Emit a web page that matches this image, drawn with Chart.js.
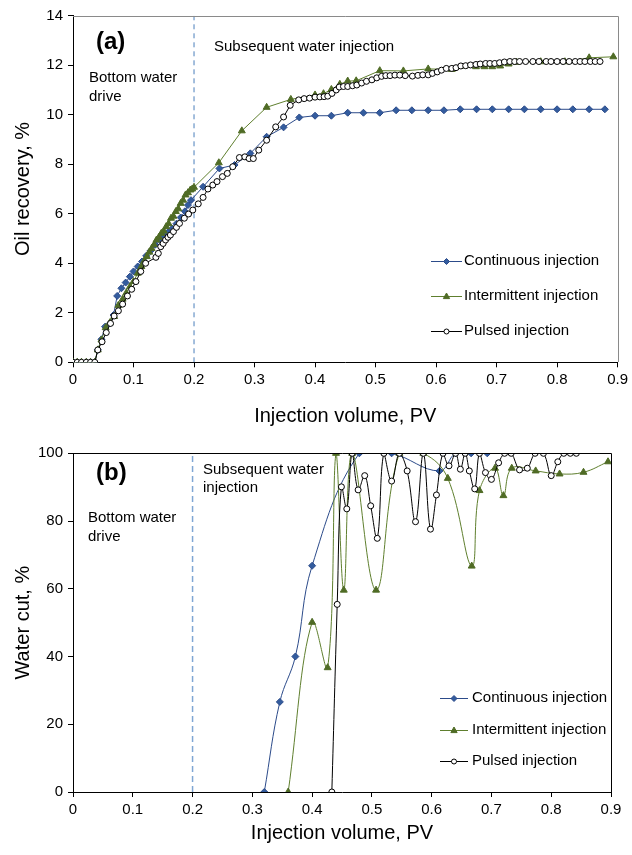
<!DOCTYPE html>
<html>
<head>
<meta charset="utf-8">
<script src="https://cdn.jsdelivr.net/npm/chart.js@4.4.1/dist/chart.umd.min.js"></script>
<style>
  html, body { margin: 0; padding: 0; background: #fff; }
  .pane { position: absolute; left: 0; }
  #paneA { top: 0; }
  #paneB { top: 430px; }
</style>
</head>
<body>
<div class="pane" id="paneA"><canvas id="chartA" width="632" height="430"></canvas></div>
<div class="pane" id="paneB"><canvas id="chartB" width="632" height="425"></canvas></div>
<script>
/* (a) Oil recovery vs injection volume */
const contA_x = [0,0.007,0.014,0.022,0.029,0.036,0.041,0.047,0.053,0.061,0.067,0.073,0.080,0.087,0.094,0.100,
  0.107,0.114,0.121,0.128,0.136,0.143,0.150,0.157,0.164,0.171,0.178,0.185,0.190,0.195,0.215,0.242,0.267,0.293,0.320,0.348,
  0.374,0.400,0.427,0.454,0.480,0.507,0.534,0.560,0.587,0.613,0.640,0.667,0.693,0.720,0.746,0.773,0.800,0.826,0.853,0.879];
const contA_y = [0,0,0,0,0,0,0.5,0.93,1.44,1.57,1.91,2.68,2.99,3.22,3.46,3.67,
  3.87,4.07,4.3,4.5,4.75,4.95,5.1,5.25,5.4,5.6,5.85,6.1,6.35,6.55,7.09,7.83,7.97,8.44,9.11,9.49,
  9.89,9.96,9.96,10.08,10.08,10.08,10.18,10.18,10.18,10.18,10.22,10.22,10.22,10.22,10.22,10.22,10.22,10.22,10.22,10.22];

const interA_x = [0,0.007,0.014,0.022,0.029,0.036,0.041,0.047,0.054,0.061,0.068,0.075,0.082,0.088,0.094,0.100,
  0.107,0.113,0.118,0.122,0.126,0.130,0.134,0.138,0.142,0.146,0.150,0.154,0.158,0.162,0.166,0.170,0.174,0.178,0.182,0.186,
  0.190,0.194,0.197,0.200,0.241,0.279,0.320,0.360,0.400,0.414,0.427,0.441,0.454,0.468,0.507,0.546,0.587,0.626,0.666,0.680,
  0.693,0.706,0.720,0.733,0.773,0.813,0.853,0.893];
const interA_y = [0,0,0,0,0,0,0.5,0.9,1.4,1.6,1.85,2.3,2.55,2.8,3.05,3.26,
  3.6,3.87,4.1,4.27,4.45,4.6,4.75,4.94,5.05,5.21,5.3,5.48,5.6,5.82,5.9,6.09,6.2,6.42,6.55,6.76,
  6.85,6.96,7.0,7.07,8.06,9.35,10.3,10.62,10.8,10.85,11.02,11.23,11.36,11.37,11.78,11.77,11.85,11.83,11.94,11.94,
  11.94,11.97,12.05,12.12,12.14,12.14,12.3,12.34];

const pulseA_x = [0,0.007,0.014,0.022,0.029,0.036,0.041,0.048,0.055,0.062,0.068,0.075,0.082,0.090,0.097,0.104,
  0.112,0.120,0.137,0.141,0.145,0.149,0.153,0.157,0.161,0.166,
  0.171,0.176,0.184,0.191,0.198,0.207,0.215,0.223,0.231,0.238,
  0.247,0.255,0.264,0.275,0.284,0.291,0.298,0.307,0.320,0.335,
  0.348,0.359,0.373,0.382,0.391,0.400,0.408,0.415,0.421,0.428,
  0.435,0.440,0.447,0.454,0.462,0.469,0.477,0.485,0.494,0.502,
  0.510,0.517,0.524,0.532,0.540,0.549,0.561,0.570,0.578,0.587,
  0.594,0.602,0.609,0.617,0.626,0.633,0.641,0.649,0.657,0.666,
  0.673,0.682,0.689,0.697,0.705,0.713,0.722,0.730,0.738,0.748,
  0.760,0.770,0.782,0.790,0.800,0.810,0.820,0.830,0.838,0.846,
  0.855,0.863,0.871];
const pulseA_y = [0,0,0,0,0,0,0.5,0.83,1.2,1.57,1.87,2.08,2.35,2.68,2.95,3.26,
  3.67,4.0,4.24,4.4,4.67,4.8,4.94,5.05,5.14,5.28,
  5.45,5.61,5.82,5.99,6.15,6.4,6.66,7.0,7.16,7.3,
  7.5,7.63,7.9,8.27,8.3,8.23,8.23,8.57,8.97,9.51,
  9.91,10.38,10.6,10.65,10.67,10.71,10.72,10.73,10.75,10.86,
  11.0,11.12,11.14,11.14,11.17,11.2,11.28,11.35,11.41,11.49,
  11.55,11.58,11.58,11.6,11.6,11.58,11.56,11.59,11.61,11.61,
  11.67,11.73,11.8,11.87,11.87,11.9,11.97,11.98,12.01,12.03,
  12.05,12.07,12.07,12.07,12.1,12.13,12.15,12.15,12.15,12.15,
  12.15,12.15,12.15,12.15,12.15,12.15,12.15,12.15,12.15,12.15,
  12.15,12.15,12.15];

/* (b) Water cut vs injection volume */
const contB_x = [0.320,0.346,0.372,0.400,0.479,0.533,0.613,0.640,0.666,0.693];
const contB_y = [0,26.6,40,66.8,100,100,94.8,100,100,100];

const interB_x = [0.360,0.400,0.426,0.440,0.453,0.467,0.507,0.546,0.586,0.627,0.667,0.680,0.706,0.720,0.734,0.774,0.814,0.854,0.895];
const interB_y = [0,50.1,36.7,100,59.6,100,59.6,100,100,92.6,66.7,89,95.6,87.5,95.6,94.8,93.9,94.4,97.5];

const pulseB_x = [0.433,0.442,0.449,0.458,0.467,0.477,0.488,0.498,0.509,0.520,0.533,0.546,0.559,0.573,0.586,0.598,0.608,0.619,0.629,0.640,
  0.648,0.656,0.663,0.672,0.680,0.690,0.700,0.712,0.722,0.733,0.747,0.760,0.773,0.787,0.800,0.811,0.821,0.832,0.842];
const pulseB_y = [0,55.4,90.1,83.6,100,89.2,93.4,84.5,74.9,100,91.8,100,94.8,79.8,100,77.6,87.7,100,96.3,100,
  95.3,100,94.8,89.5,100,94.3,92.3,97.2,100,100,95.1,95.6,100,100,93.4,97.5,100,100,100];

const seriesNames = ["Continuous injection", "Intermittent injection", "Pulsed injection"];
const divideX = 0.2;   // end of bottom water drive stage

const FONT = "'Liberation Sans', Arial, sans-serif";
const STY = {
  cont:  { line: "#2c4b8a", fill: "#335c9e", edge: "#2c4b8a", shape: "rectRot",  r: 3.5 },
  inter: { line: "#5f7f2e", fill: "#4f6b25", edge: "#4f6b25", shape: "triangle", r: 4 },
  pulse: { line: "#000000", fill: "#ffffff", edge: "#000000", shape: "circle",   r: 3 },
};

const pts = (xs, ys) => xs.map((x, i) => ({ x, y: ys[i] }));

function series(label, xs, ys, st, tension, order) {
  return {
    label, data: pts(xs, ys), order, tension, sty: st,
    borderColor: st.line, borderWidth: 1, fill: false,
    pointStyle: st.shape, pointRadius: st.r, pointHoverRadius: st.r,
    pointBackgroundColor: st.fill, pointBorderColor: st.edge, pointBorderWidth: 1,
  };
}

function divider(ymax, color, dash, width) {
  return {
    label: "_div", data: [{ x: divideX, y: 0 }, { x: divideX, y: ymax }], order: 9,
    borderColor: color, borderWidth: width, borderDash: dash, pointRadius: 0, fill: false,
  };
}

/* frame, notes and the line+marker legend */
function marker(ctx, st, x, y, r) {
  ctx.fillStyle = st.fill; ctx.strokeStyle = st.edge; ctx.lineWidth = 1;
  ctx.beginPath();
  if (st.shape === "rectRot") {
    ctx.moveTo(x, y - r); ctx.lineTo(x + r, y); ctx.lineTo(x, y + r); ctx.lineTo(x - r, y);
  } else if (st.shape === "triangle") {
    ctx.moveTo(x, y - r); ctx.lineTo(x + r * 0.9, y + r * 0.6); ctx.lineTo(x - r * 0.9, y + r * 0.6);
  } else {
    ctx.arc(x, y, r, 0, Math.PI * 2);
  }
  ctx.closePath(); ctx.fill(); ctx.stroke();
}

const deco = {
  id: "deco",
  afterDraw(chart, args, o) {
    const { ctx, chartArea: a } = chart;
    ctx.save();
    ctx.strokeStyle = o.frame; ctx.lineWidth = 1;
    ctx.beginPath();
    ctx.moveTo(Math.round(a.left), Math.round(a.top) + 0.5);
    ctx.lineTo(Math.round(a.right) + 0.5, Math.round(a.top) + 0.5);
    ctx.lineTo(Math.round(a.right) + 0.5, Math.round(a.bottom));
    ctx.stroke();

    ctx.fillStyle = "#000"; ctx.textBaseline = "middle"; ctx.textAlign = "left";
    o.notes.forEach(n => { ctx.font = n.font; ctx.fillText(n.text, n.x, n.y); });

    const L = o.legend;
    ctx.font = "15px " + FONT;
    chart.data.datasets.filter(d => d.sty).forEach((d, i) => {
      const y = L.y[i];
      ctx.strokeStyle = d.sty.line; ctx.lineWidth = 1;
      ctx.beginPath(); ctx.moveTo(L.x1, y + 0.5); ctx.lineTo(L.x2, y + 0.5); ctx.stroke();
      marker(ctx, d.sty, (L.x1 + L.x2) / 2, y + 0.5, d.sty.r - 0.5);
      ctx.fillStyle = "#000";
      ctx.fillText(d.label, L.tx, y);
    });
    ctx.restore();
  },
};

function axes(ymax, ystep, ytitle, xtitleGap, xH) {
  const tickFont = { family: FONT, size: 15 };
  const titleFont = { family: FONT, size: 20 };
  return {
    x: {
      type: "linear", min: 0, max: 0.9,
      afterFit: s => { s.height = xH; },
      ticks: { stepSize: 0.1, font: tickFont, color: "#000", padding: 4, maxRotation: 0,
               callback: v => String(Math.round(v * 10) / 10) },
      grid: { drawOnChartArea: false, drawTicks: true, tickLength: 5, color: "#000" },
      border: { display: true, color: "#000", width: 1 },
      title: { display: true, text: "Injection volume, PV", font: titleFont, color: "#000",
               padding: { top: 0, bottom: xtitleGap } },
    },
    y: {
      min: 0, max: ymax,
      afterFit: s => { s.width = 73; },
      ticks: { stepSize: ystep, font: tickFont, color: "#000", padding: 5 },
      grid: { drawOnChartArea: false, drawTicks: true, tickLength: 5, color: "#000" },
      border: { display: true, color: "#000", width: 1 },
      title: { display: true, text: ytitle, font: titleFont, color: "#000", padding: { top: 11, bottom: 0 } },
    },
  };
}

function build(id, cfg) {
  return new Chart(document.getElementById(id), {
    type: "line",
    data: { datasets: cfg.datasets },
    options: {
      responsive: false, animation: false, parsing: true,
      layout: { padding: cfg.pad },
      plugins: { legend: { display: false }, tooltip: { enabled: false }, deco: cfg.deco },
      scales: cfg.scales,
    },
    plugins: [deco],
  });
}

build("chartA", {
  pad: { top: 15.7, right: 14, left: 0, bottom: 0 },
  scales: axes(14, 2, "Oil recovery, %", 2, 67.7),
  datasets: [
    series(seriesNames[0], contA_x, contA_y, STY.cont, 0, 3),
    series(seriesNames[1], interA_x, interA_y, STY.inter, 0, 2),
    series(seriesNames[2], pulseA_x, pulseA_y, STY.pulse, 0, 1),
    divider(14, "#4a7ebb", [5, 4], 1),
  ],
  deco: {
    frame: "#8a8a8a",
    notes: [
      { text: "(a)", x: 96, y: 42, font: "bold 24px " + FONT },
      { text: "Subsequent water injection", x: 214, y: 47, font: "15px " + FONT },
      { text: "Bottom water", x: 89, y: 78, font: "15px " + FONT },
      { text: "drive", x: 89, y: 97, font: "15px " + FONT },
    ],
    legend: { x1: 431, x2: 462, tx: 464, y: [261, 296, 331] },
  },
});

build("chartB", {
  pad: { top: 23.3, right: 21, left: 0, bottom: 0 },
  scales: axes(100, 20, "Water cut, %", 10, 63),
  datasets: [
    series(seriesNames[0], contB_x, contB_y, STY.cont, 0.4, 3),
    series(seriesNames[1], interB_x, interB_y, STY.inter, 0.4, 2),
    series(seriesNames[2], pulseB_x, pulseB_y, STY.pulse, 0.4, 1),
    divider(100, "#7fa6d3", [6, 4], 1.5),
  ],
  deco: {
    frame: "#000",
    notes: [
      { text: "(b)", x: 96, y: 43, font: "bold 24px " + FONT },
      { text: "Subsequent water", x: 203, y: 40, font: "15px " + FONT },
      { text: "injection", x: 203, y: 58, font: "15px " + FONT },
      { text: "Bottom water", x: 88, y: 88, font: "15px " + FONT },
      { text: "drive", x: 88, y: 107, font: "15px " + FONT },
    ],
    legend: { x1: 440, x2: 468, tx: 472, y: [268, 300, 331] },
  },
});
</script>
</body>
</html>
